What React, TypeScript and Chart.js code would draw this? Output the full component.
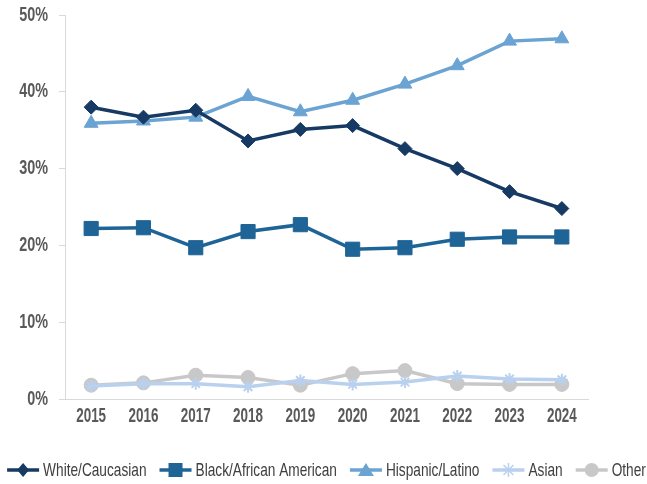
import React, { useEffect, useRef } from "react";
import { Chart, registerables } from "chart.js";

Chart.register(...registerables);

const years = ["2015", "2016", "2017", "2018", "2019", "2020", "2021", "2022", "2023", "2024"];
const white = [38.0, 36.7, 37.6, 33.6, 35.1, 35.6, 32.6, 30.0, 27.0, 24.8];
const black = [22.2, 22.3, 19.7, 21.8, 22.7, 19.5, 19.7, 20.8, 21.1, 21.1];
const hispanic = [35.9, 36.2, 36.7, 39.4, 37.4, 38.9, 41.0, 43.4, 46.6, 46.9];
const asian = [1.7, 2.0, 2.0, 1.6, 2.4, 1.9, 2.2, 3.0, 2.6, 2.5];
const other = [1.8, 2.1, 3.1, 2.8, 1.8, 3.3, 3.7, 2.0, 1.9, 1.9];
const yTicks = [0, 10, 20, 30, 40, 50];
const names = ["White/Caucasian", "Black/African American", "Hispanic/Latino", "Asian", "Other"];

const FAMILY = "'Liberation Sans', Arial, sans-serif";

type Style = "rectRot" | "rect" | "triangle" | "star" | "circle";

function drawMarker(ctx: CanvasRenderingContext2D, cx: number, cy: number, color: string, style: Style) {
  ctx.save();
  ctx.strokeStyle = color;
  ctx.fillStyle = color;
  ctx.beginPath();
  if (style === "rectRot") {
    const r = 7;
    ctx.moveTo(cx, cy - r);
    ctx.lineTo(cx + r * 0.85, cy);
    ctx.lineTo(cx, cy + r);
    ctx.lineTo(cx - r * 0.85, cy);
    ctx.closePath();
    ctx.fill();
  } else if (style === "rect") {
    ctx.fillRect(cx - 7, cy - 7, 14, 14);
  } else if (style === "triangle") {
    ctx.moveTo(cx, cy - 7);
    ctx.lineTo(cx + 8, cy + 6);
    ctx.lineTo(cx - 8, cy + 6);
    ctx.closePath();
    ctx.fill();
  } else if (style === "circle") {
    ctx.arc(cx, cy, 7, 0, Math.PI * 2);
    ctx.fill();
  } else {
    ctx.lineWidth = 1.5;
    const r = 7;
    for (let i = 0; i < 4; i++) {
      const a = (i * Math.PI) / 4;
      ctx.moveTo(cx - r * Math.cos(a), cy - r * Math.sin(a));
      ctx.lineTo(cx + r * Math.cos(a), cy + r * Math.sin(a));
    }
    ctx.stroke();
  }
  ctx.restore();
}

function condensedText(ctx: CanvasRenderingContext2D, text: string, x: number, y: number, sx: number, align: CanvasTextAlign) {
  ctx.save();
  ctx.translate(x, y);
  ctx.scale(sx, 1);
  ctx.textAlign = align;
  ctx.textBaseline = "middle";
  ctx.fillText(text, 0, 0);
  ctx.restore();
}

export default function App() {
  const ref = useRef<HTMLCanvasElement | null>(null);

  useEffect(() => {
    document.body.style.margin = "0";
    const styles: Style[] = ["rectRot", "rect", "triangle", "star", "circle"];
    const colors = ["#163A63", "#1F6496", "#6BA3D3", "#B9D1EE", "#C8C8C8"];
    const series = [white, black, hispanic, asian, other];
    const radii = [7, 10, 8, 6, 7];

    const labelPlugin = {
      id: "condensedLabels",
      afterDraw(chart: any) {
        const ctx: CanvasRenderingContext2D = chart.ctx;
        const xs = chart.scales.x;
        const ys = chart.scales.y;
        ctx.save();
        ctx.fillStyle = "#595959";
        ctx.font = `bold 20px ${FAMILY}`;
        yTicks.forEach((v) => {
          condensedText(ctx, v + "%", ys.right - 17, ys.getPixelForValue(v), 0.72, "right");
        });
        ctx.font = `bold 21px ${FAMILY}`;
        years.forEach((y, i) => {
          condensedText(ctx, y, xs.getPixelForValue(i), xs.top + 17, 0.64, "center");
        });
        // legend
        ctx.font = `19px ${FAMILY}`;
        const sx = 0.72;
        const iconW = 32, gapIcon = 4, gapItem = 13;
        const widths = names.map((n) => iconW + gapIcon + ctx.measureText(n).width * sx);
        const total = widths.reduce((a, b) => a + b, 0) + gapItem * (names.length - 1);
        let x = (chart.width - total) / 2 + 3;
        const cy = 470;
        names.forEach((n, i) => {
          ctx.save();
          ctx.strokeStyle = colors[i];
          ctx.lineWidth = 3.5;
          ctx.beginPath();
          ctx.moveTo(x, cy);
          ctx.lineTo(x + iconW, cy);
          ctx.stroke();
          ctx.restore();
          drawMarker(ctx, x + iconW / 2, cy, colors[i], styles[i]);
          ctx.fillStyle = "#404040";
          condensedText(ctx, n, x + iconW + gapIcon, cy + 1, sx, "left");
          x += widths[i] + gapItem;
        });
        ctx.restore();
      },
    };

    const chart = new Chart(ref.current!, {
      type: "line",
      data: {
        labels: years,
        datasets: series.map((d, i) => ({
          label: names[i],
          data: d,
          borderColor: colors[i],
          backgroundColor: colors[i],
          pointBackgroundColor: colors[i],
          pointBorderColor: colors[i],
          borderWidth: 3.5,
          pointStyle: styles[i],
          pointRadius: radii[i],
          pointBorderWidth: i === 3 ? 2 : 1,
          tension: 0,
        })),
      },
      options: {
        animation: false,
        responsive: false,
        layout: { padding: { left: 8, right: 59, top: 15, bottom: 77 } },
        plugins: {
          tooltip: { enabled: false },
          legend: { display: false },
        },
        scales: {
          x: {
            offset: true,
            grid: { display: false },
            border: { display: true, color: "#D9D9D9", width: 1 },
            ticks: { display: false },
          },
          y: {
            min: 0,
            max: 50,
            afterBuildTicks: (s: any) => {
              s.ticks = yTicks.map((v) => ({ value: v }));
            },
            afterFit: (s: any) => {
              s.width = 57;
            },
            grid: { display: true, drawOnChartArea: false, drawTicks: true, tickLength: 6, color: "#D9D9D9" },
            border: { display: true, color: "#D9D9D9", width: 1 },
            ticks: { display: false },
          },
        },
      },
      plugins: [labelPlugin],
    });
    return () => chart.destroy();
  }, []);

  return <canvas ref={ref} width={647} height={484} style={{ display: "block" }} />;
}
